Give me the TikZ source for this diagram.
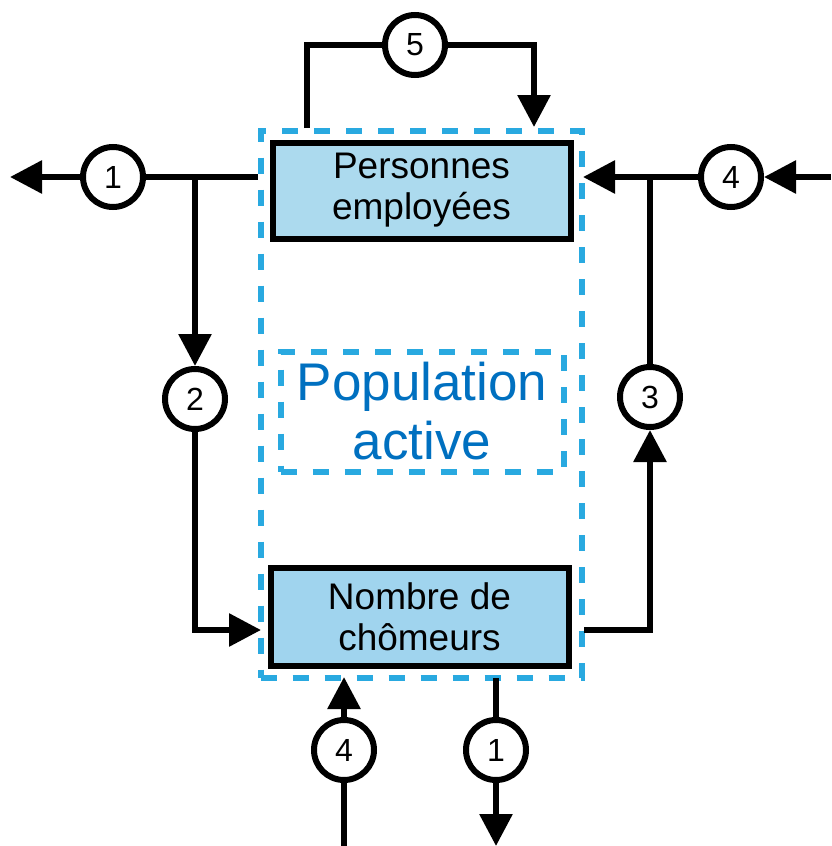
\documentclass[tikz,border=0pt]{standalone}
\usepackage{fontspec}
\setmainfont{Liberation Sans}
\usetikzlibrary{arrows.meta}
\definecolor{GroupBlue}{RGB}{41,169,224}
\definecolor{TitleBlue}{RGB}{0,112,192}
\definecolor{EmpFill}{RGB}{172,218,238}
\definecolor{ChomFill}{RGB}{160,212,238}

\begin{document}
\begin{tikzpicture}[
        % Environment Config
        x=1pt, y=-1pt,
        Flow/.style={% Style for the flows
          -{Triangle[length=32pt,width=32pt]},
          line width=6pt
        },
        Wire/.style={% Style for plain wires
          line width=6pt
        },
        Stock/.style={% Style for the two boxes
          draw,
          line width=6pt,
          align=center,
          inner sep=0pt,
          font=\fontsize{37}{41}\selectfont
        },
        Group/.style={% Style for the dashed frames
          draw=GroupBlue,
          line width=6pt,
          dash pattern=on 16pt off 16pt,
          inner sep=0pt
        },
        Numbered/.style={% Style for circle marks
          draw,
          circle,
          fill=white,
          line width=6pt,
          minimum size=60pt,
          inner sep=0pt,
          font=\fontsize{32}{36}\selectfont
        }
      ]

      \useasboundingbox (0,0) rectangle (831,846);

      % Dashed frames
      \node[Group, minimum width=321pt, minimum height=547pt] (pop) at (421,404) {};
      \node[Group, minimum width=283pt, minimum height=120pt, align=center,
            text=TitleBlue, font=\fontsize{53}{59}\selectfont] (act) at (422,411.5)
            {Population\\active};

      % Stocks
      \node[Stock, fill=EmpFill, minimum width=298pt, minimum height=96pt] (emp)
            at (421.5,190.5) {Personnes\\employées};
      \node[Stock, fill=ChomFill, minimum width=298pt, minimum height=98pt] (chom)
            at (419.5,616.5) {Nombre de\\chômeurs};

      % Circle marks
      \node[Numbered] (c1l) at (113,177) {1};
      \node[Numbered] (c5) at (415,45) {5};
      \node[Numbered] (c4r) at (731,177) {4};
      \node[Numbered] (c2) at (195,399) {2};
      \node[Numbered] (c3) at (650,397) {3};
      \node[Numbered] (c4b) at (344,750) {4};
      \node[Numbered] (c1b) at (496,750) {1};

      % Loose ends and junctions
      \coordinate (outL) at (10,177);
      \coordinate (jl) at (195,177);
      \coordinate (inL) at (261,630);
      \coordinate (outR) at (584,630);
      \coordinate (jr) at (650,177);
      \coordinate (inR) at (583,177);
      \coordinate (inRR) at (831,177);
      \coordinate (topL) at (307,128);
      \coordinate (topR) at (534,127);
      \coordinate (botL) at (344,846);
      \coordinate (inB) at (344,677);
      \coordinate (outB) at (496,678);
      \coordinate (botR) at (496,846);

      % Draw the flows
      %===Leaving employment (1)===
      \draw[Wire]
      (pop.west |- c1l)
          -- (c1l);
      \draw[Flow]
      (c1l.west)
          -- (outL);

      %===Employed to unemployed (2)===
      \draw[Flow]
      (jl)
          -- (c2.north);
      \draw[Flow]
      (c2.south)
          |- (inL);

      %===Unemployed to employed (3)===
      \draw[Flow]
      (outR)
          -| (c3.south);
      \draw[Wire]
      (c3.north)
          -- (jr);

      %===Entering (4)===
      \draw[Flow]
      (inRR)
          -- (c4r.east);
      \draw[Flow]
      (c4r.west)
          -- (inR);
      \draw[Wire]
      (botL)
          -- (c4b.south);
      \draw[Flow]
      (c4b.north)
          -- (inB);

      %===Leaving unemployment (1)===
      \draw[Wire]
      (outB)
          -- (c1b.north);
      \draw[Flow]
      (c1b.south)
          -- (botR);

      %===Job to job (5)===
      \draw[Wire]
      (topL)
          |- (c5.west);
      \draw[Flow]
      (c5.east)
          -| (topR);

      \end{tikzpicture}
\end{document}
